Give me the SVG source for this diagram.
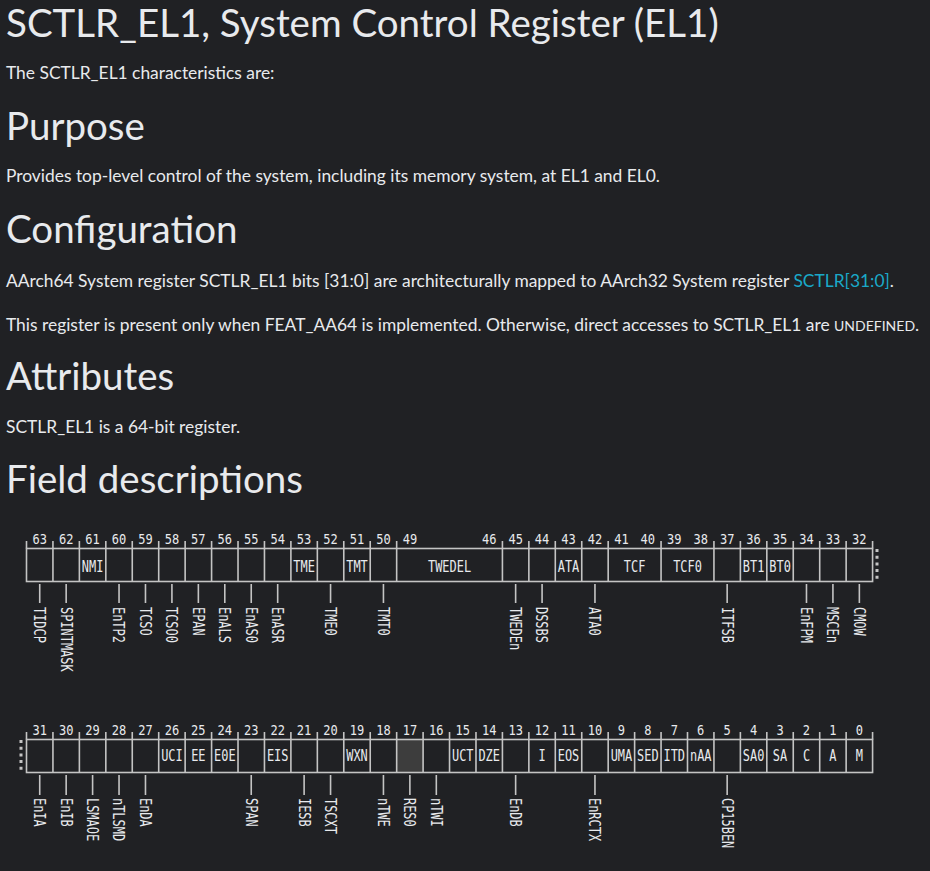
<svg xmlns="http://www.w3.org/2000/svg" width="930" height="871" viewBox="0 0 930 871">
<style>
.h{font-family:Lato,"Open Sans",sans-serif;font-size:38.5px;fill:#e8eaed;}
.b{font-family:Lato,"Open Sans",sans-serif;font-size:17.4px;fill:#e8eaed;}
.lk{fill:#1aa9c9;}
.sc{font-size:14px;}
.r{font-family:"DejaVu Sans Mono",monospace;font-size:15.5px;fill:#e8eaed;}
.n{font-family:"DejaVu Sans Mono",monospace;font-size:14px;fill:#e8eaed;text-anchor:middle;}
.c{text-anchor:middle;}
.box{fill:none;stroke:#c4c4c4;stroke-width:1.6;}
.ln{stroke:#c4c4c4;stroke-width:1.6;fill:none;}
.dot{stroke:#c4c4c4;stroke-width:3;stroke-dasharray:3 3.7;fill:none;}
</style>
<rect x="0" y="0" width="930" height="871" fill="#202124"/>

<g id="text">
<text class="h" x="6" y="37">SCTLR_EL1, System Control Register (EL1)</text>
<text class="b" x="6" y="79">The SCTLR_EL1 characteristics are:</text>
<text class="h" x="6" y="140">Purpose</text>
<text class="b" x="6" y="182">Provides top-level control of the system, including its memory system, at EL1 and EL0.</text>
<text class="h" x="6" y="243">Configuration</text>
<text class="b" x="6" y="287">AArch64 System register SCTLR_EL1 bits [31:0] are architecturally mapped to AArch32 System register <tspan class="lk">SCTLR[31:0]</tspan>.</text>
<text class="b" x="6" y="331">This register is present only when FEAT_AA64 is implemented. Otherwise, direct accesses to SCTLR_EL1 are <tspan class="sc">UNDEFINED</tspan>.</text>
<text class="h" x="6" y="390">Attributes</text>
<text class="b" x="6" y="433">SCTLR_EL1 is a 64-bit register.</text>
<text class="h" x="6" y="493">Field descriptions</text>
</g>

<!-- Top register (bits 63:32) -->
<g id="reg-high">
<rect class="box" x="26.5" y="548.5" width="846.08" height="33"/>
<path class="ln" d="M52.94 548.5V581.5M79.38 548.5V581.5M105.82 548.5V581.5M132.26 548.5V581.5M158.7 548.5V581.5M185.14 548.5V581.5M211.58 548.5V581.5M238.02 548.5V581.5M264.46 548.5V581.5M290.9 548.5V581.5M317.34 548.5V581.5M343.78 548.5V581.5M370.22 548.5V581.5M396.66 548.5V581.5M502.42 548.5V581.5M528.86 548.5V581.5M555.3 548.5V581.5M581.74 548.5V581.5M608.18 548.5V581.5M661.06 548.5V581.5M713.94 548.5V581.5M740.38 548.5V581.5M766.82 548.5V581.5M793.26 548.5V581.5M819.7 548.5V581.5M846.14 548.5V581.5"/>
<path class="ln" d="M26.5 541V548.5M52.94 541V548.5M79.38 541V548.5M105.82 541V548.5M132.26 541V548.5M158.7 541V548.5M185.14 541V548.5M211.58 541V548.5M238.02 541V548.5M264.46 541V548.5M290.9 541V548.5M317.34 541V548.5M343.78 541V548.5M370.22 541V548.5M396.66 541V548.5M502.42 541V548.5M528.86 541V548.5M555.3 541V548.5M581.74 541V548.5M608.18 541V548.5M661.06 541V548.5M713.94 541V548.5M740.38 541V548.5M766.82 541V548.5M793.26 541V548.5M819.7 541V548.5M846.14 541V548.5M872.58 541V548.5"/>
<path class="dot" d="M877 549V581"/>
<g id="bitnums-high">
<text class="n" transform="translate(39.72,544) scale(0.86,1)">63</text>
<text class="n" transform="translate(66.16,544) scale(0.86,1)">62</text>
<text class="n" transform="translate(92.6,544) scale(0.86,1)">61</text>
<text class="n" transform="translate(119.04,544) scale(0.86,1)">60</text>
<text class="n" transform="translate(145.48,544) scale(0.86,1)">59</text>
<text class="n" transform="translate(171.92,544) scale(0.86,1)">58</text>
<text class="n" transform="translate(198.36,544) scale(0.86,1)">57</text>
<text class="n" transform="translate(224.8,544) scale(0.86,1)">56</text>
<text class="n" transform="translate(251.24,544) scale(0.86,1)">55</text>
<text class="n" transform="translate(277.68,544) scale(0.86,1)">54</text>
<text class="n" transform="translate(304.12,544) scale(0.86,1)">53</text>
<text class="n" transform="translate(330.56,544) scale(0.86,1)">52</text>
<text class="n" transform="translate(357,544) scale(0.86,1)">51</text>
<text class="n" transform="translate(383.44,544) scale(0.86,1)">50</text>
<text class="n" transform="translate(409.88,544) scale(0.86,1)">49</text>
<text class="n" transform="translate(489.2,544) scale(0.86,1)">46</text>
<text class="n" transform="translate(515.64,544) scale(0.86,1)">45</text>
<text class="n" transform="translate(542.08,544) scale(0.86,1)">44</text>
<text class="n" transform="translate(568.52,544) scale(0.86,1)">43</text>
<text class="n" transform="translate(594.96,544) scale(0.86,1)">42</text>
<text class="n" transform="translate(621.4,544) scale(0.86,1)">41</text>
<text class="n" transform="translate(647.84,544) scale(0.86,1)">40</text>
<text class="n" transform="translate(674.28,544) scale(0.86,1)">39</text>
<text class="n" transform="translate(700.72,544) scale(0.86,1)">38</text>
<text class="n" transform="translate(727.16,544) scale(0.86,1)">37</text>
<text class="n" transform="translate(753.6,544) scale(0.86,1)">36</text>
<text class="n" transform="translate(780.04,544) scale(0.86,1)">35</text>
<text class="n" transform="translate(806.48,544) scale(0.86,1)">34</text>
<text class="n" transform="translate(832.92,544) scale(0.86,1)">33</text>
<text class="n" transform="translate(859.36,544) scale(0.86,1)">32</text>
</g>
<g id="f63"><text class="r" transform="translate(34.1,607) rotate(90) scale(0.77,1)">TIDCP</text></g>
<g id="f62"><text class="r" transform="translate(60.56,607) rotate(90) scale(0.77,1)">SPINTMASK</text></g>
<g id="f61"><text class="r c" transform="translate(92.6,571.5) scale(0.77,1)">NMI</text></g>
<g id="f60"><text class="r" transform="translate(113.44,607) rotate(90) scale(0.77,1)">EnTP2</text></g>
<g id="f59"><text class="r" transform="translate(139.88,607) rotate(90) scale(0.77,1)">TCSO</text></g>
<g id="f58"><text class="r" transform="translate(166.32,607) rotate(90) scale(0.77,1)">TCSO0</text></g>
<g id="f57"><text class="r" transform="translate(192.76,607) rotate(90) scale(0.77,1)">EPAN</text></g>
<g id="f56"><text class="r" transform="translate(219.2,607) rotate(90) scale(0.77,1)">EnALS</text></g>
<g id="f55"><text class="r" transform="translate(245.64,607) rotate(90) scale(0.77,1)">EnAS0</text></g>
<g id="f54"><text class="r" transform="translate(272.08,607) rotate(90) scale(0.77,1)">EnASR</text></g>
<g id="f53"><text class="r c" transform="translate(304.12,571.5) scale(0.77,1)">TME</text></g>
<g id="f52"><text class="r" transform="translate(324.96,607) rotate(90) scale(0.77,1)">TME0</text></g>
<g id="f51"><text class="r c" transform="translate(357,571.5) scale(0.77,1)">TMT</text></g>
<g id="f50"><text class="r" transform="translate(377.84,607) rotate(90) scale(0.77,1)">TMT0</text></g>
<g id="f49_46"><text class="r c" transform="translate(449.54,571.5) scale(0.77,1)">TWEDEL</text></g>
<g id="f45"><text class="r" transform="translate(510.04,607) rotate(90) scale(0.77,1)">TWEDEn</text></g>
<g id="f44"><text class="r" transform="translate(536.48,607) rotate(90) scale(0.77,1)">DSSBS</text></g>
<g id="f43"><text class="r c" transform="translate(568.52,571.5) scale(0.77,1)">ATA</text></g>
<g id="f42"><text class="r" transform="translate(589.36,607) rotate(90) scale(0.77,1)">ATA0</text></g>
<g id="f41_40"><text class="r c" transform="translate(634.62,571.5) scale(0.77,1)">TCF</text></g>
<g id="f39_38"><text class="r c" transform="translate(687.5,571.5) scale(0.77,1)">TCF0</text></g>
<g id="f37"><text class="r" transform="translate(721.56,607) rotate(90) scale(0.77,1)">ITFSB</text></g>
<g id="f36"><text class="r c" transform="translate(753.6,571.5) scale(0.77,1)">BT1</text></g>
<g id="f35"><text class="r c" transform="translate(780.04,571.5) scale(0.77,1)">BT0</text></g>
<g id="f34"><text class="r" transform="translate(800.88,607) rotate(90) scale(0.77,1)">EnFPM</text></g>
<g id="f33"><text class="r" transform="translate(827.32,607) rotate(90) scale(0.77,1)">MSCEn</text></g>
<g id="f32"><text class="r" transform="translate(853.76,607) rotate(90) scale(0.77,1)">CMOW</text></g>
</g>

<!-- Bottom register (bits 31:0) -->
<g id="reg-low">
<rect x="396.66" y="739.5" width="26.44" height="33" fill="#3d3d3d"/>
<rect class="box" x="26.5" y="739.5" width="846.08" height="33"/>
<path class="ln" d="M52.94 739.5V772.5M79.38 739.5V772.5M105.82 739.5V772.5M132.26 739.5V772.5M158.7 739.5V772.5M185.14 739.5V772.5M211.58 739.5V772.5M238.02 739.5V772.5M264.46 739.5V772.5M290.9 739.5V772.5M317.34 739.5V772.5M343.78 739.5V772.5M370.22 739.5V772.5M396.66 739.5V772.5M423.1 739.5V772.5M449.54 739.5V772.5M475.98 739.5V772.5M502.42 739.5V772.5M528.86 739.5V772.5M555.3 739.5V772.5M581.74 739.5V772.5M608.18 739.5V772.5M634.62 739.5V772.5M661.06 739.5V772.5M687.5 739.5V772.5M713.94 739.5V772.5M740.38 739.5V772.5M766.82 739.5V772.5M793.26 739.5V772.5M819.7 739.5V772.5M846.14 739.5V772.5"/>
<path class="ln" d="M26.5 732V739.5M52.94 732V739.5M79.38 732V739.5M105.82 732V739.5M132.26 732V739.5M158.7 732V739.5M185.14 732V739.5M211.58 732V739.5M238.02 732V739.5M264.46 732V739.5M290.9 732V739.5M317.34 732V739.5M343.78 732V739.5M370.22 732V739.5M396.66 732V739.5M423.1 732V739.5M449.54 732V739.5M475.98 732V739.5M502.42 732V739.5M528.86 732V739.5M555.3 732V739.5M581.74 732V739.5M608.18 732V739.5M634.62 732V739.5M661.06 732V739.5M687.5 732V739.5M713.94 732V739.5M740.38 732V739.5M766.82 732V739.5M793.26 732V739.5M819.7 732V739.5M846.14 732V739.5M872.58 732V739.5"/>
<path class="dot" d="M21 740V772"/>
<g id="bitnums-low">
<text class="n" transform="translate(39.72,735) scale(0.86,1)">31</text>
<text class="n" transform="translate(66.16,735) scale(0.86,1)">30</text>
<text class="n" transform="translate(92.6,735) scale(0.86,1)">29</text>
<text class="n" transform="translate(119.04,735) scale(0.86,1)">28</text>
<text class="n" transform="translate(145.48,735) scale(0.86,1)">27</text>
<text class="n" transform="translate(171.92,735) scale(0.86,1)">26</text>
<text class="n" transform="translate(198.36,735) scale(0.86,1)">25</text>
<text class="n" transform="translate(224.8,735) scale(0.86,1)">24</text>
<text class="n" transform="translate(251.24,735) scale(0.86,1)">23</text>
<text class="n" transform="translate(277.68,735) scale(0.86,1)">22</text>
<text class="n" transform="translate(304.12,735) scale(0.86,1)">21</text>
<text class="n" transform="translate(330.56,735) scale(0.86,1)">20</text>
<text class="n" transform="translate(357,735) scale(0.86,1)">19</text>
<text class="n" transform="translate(383.44,735) scale(0.86,1)">18</text>
<text class="n" transform="translate(409.88,735) scale(0.86,1)">17</text>
<text class="n" transform="translate(436.32,735) scale(0.86,1)">16</text>
<text class="n" transform="translate(462.76,735) scale(0.86,1)">15</text>
<text class="n" transform="translate(489.2,735) scale(0.86,1)">14</text>
<text class="n" transform="translate(515.64,735) scale(0.86,1)">13</text>
<text class="n" transform="translate(542.08,735) scale(0.86,1)">12</text>
<text class="n" transform="translate(568.52,735) scale(0.86,1)">11</text>
<text class="n" transform="translate(594.96,735) scale(0.86,1)">10</text>
<text class="n" transform="translate(621.4,735) scale(0.86,1)">9</text>
<text class="n" transform="translate(647.84,735) scale(0.86,1)">8</text>
<text class="n" transform="translate(674.28,735) scale(0.86,1)">7</text>
<text class="n" transform="translate(700.72,735) scale(0.86,1)">6</text>
<text class="n" transform="translate(727.16,735) scale(0.86,1)">5</text>
<text class="n" transform="translate(753.6,735) scale(0.86,1)">4</text>
<text class="n" transform="translate(780.04,735) scale(0.86,1)">3</text>
<text class="n" transform="translate(806.48,735) scale(0.86,1)">2</text>
<text class="n" transform="translate(832.92,735) scale(0.86,1)">1</text>
<text class="n" transform="translate(859.36,735) scale(0.86,1)">0</text>
</g>
<g id="f31"><text class="r" transform="translate(34.1,798) rotate(90) scale(0.77,1)">EnIA</text></g>
<g id="f30"><text class="r" transform="translate(60.56,798) rotate(90) scale(0.77,1)">EnIB</text></g>
<g id="f29"><text class="r" transform="translate(87,798) rotate(90) scale(0.77,1)">LSMAOE</text></g>
<g id="f28"><text class="r" transform="translate(113.44,798) rotate(90) scale(0.77,1)">nTLSMD</text></g>
<g id="f27"><text class="r" transform="translate(139.88,798) rotate(90) scale(0.77,1)">EnDA</text></g>
<g id="f26"><text class="r c" transform="translate(171.92,761) scale(0.77,1)">UCI</text></g>
<g id="f25"><text class="r c" transform="translate(198.36,761) scale(0.77,1)">EE</text></g>
<g id="f24"><text class="r c" transform="translate(224.8,761) scale(0.77,1)">E0E</text></g>
<g id="f23"><text class="r" transform="translate(245.64,798) rotate(90) scale(0.77,1)">SPAN</text></g>
<g id="f22"><text class="r c" transform="translate(277.68,761) scale(0.77,1)">EIS</text></g>
<g id="f21"><text class="r" transform="translate(298.52,798) rotate(90) scale(0.77,1)">IESB</text></g>
<g id="f20"><text class="r" transform="translate(324.96,798) rotate(90) scale(0.77,1)">TSCXT</text></g>
<g id="f19"><text class="r c" transform="translate(357,761) scale(0.77,1)">WXN</text></g>
<g id="f18"><text class="r" transform="translate(377.84,798) rotate(90) scale(0.77,1)">nTWE</text></g>
<g id="f17"><text class="r" transform="translate(404.28,798) rotate(90) scale(0.77,1)">RES0</text></g>
<g id="f16"><text class="r" transform="translate(430.72,798) rotate(90) scale(0.77,1)">nTWI</text></g>
<g id="f15"><text class="r c" transform="translate(462.76,761) scale(0.77,1)">UCT</text></g>
<g id="f14"><text class="r c" transform="translate(489.2,761) scale(0.77,1)">DZE</text></g>
<g id="f13"><text class="r" transform="translate(510.04,798) rotate(90) scale(0.77,1)">EnDB</text></g>
<g id="f12"><text class="r c" transform="translate(542.08,761) scale(0.77,1)">I</text></g>
<g id="f11"><text class="r c" transform="translate(568.52,761) scale(0.77,1)">EOS</text></g>
<g id="f10"><text class="r" transform="translate(589.36,798) rotate(90) scale(0.77,1)">EnRCTX</text></g>
<g id="f9"><text class="r c" transform="translate(621.4,761) scale(0.77,1)">UMA</text></g>
<g id="f8"><text class="r c" transform="translate(647.84,761) scale(0.77,1)">SED</text></g>
<g id="f7"><text class="r c" transform="translate(674.28,761) scale(0.77,1)">ITD</text></g>
<g id="f6"><text class="r c" transform="translate(700.72,761) scale(0.77,1)">nAA</text></g>
<g id="f5"><text class="r" transform="translate(721.56,798) rotate(90) scale(0.77,1)">CP15BEN</text></g>
<g id="f4"><text class="r c" transform="translate(753.6,761) scale(0.77,1)">SA0</text></g>
<g id="f3"><text class="r c" transform="translate(780.04,761) scale(0.77,1)">SA</text></g>
<g id="f2"><text class="r c" transform="translate(806.48,761) scale(0.77,1)">C</text></g>
<g id="f1"><text class="r c" transform="translate(832.92,761) scale(0.77,1)">A</text></g>
<g id="f0"><text class="r c" transform="translate(859.36,761) scale(0.77,1)">M</text></g>
</g>

<g id="connectors">
<path class="ln" d="M39.72 584V603M66.16 584V603M119.04 584V603M145.48 584V603M171.92 584V603M198.36 584V603M224.8 584V603M251.24 584V603M277.68 584V603M330.56 584V603M383.44 584V603M515.64 584V603M542.08 584V603M594.96 584V603M727.16 584V603M806.48 584V603M832.92 584V603M859.36 584V603"/>
<path class="ln" d="M39.72 775V795M66.16 775V795M92.6 775V795M119.04 775V795M145.48 775V795M251.24 775V795M304.12 775V795M330.56 775V795M383.44 775V795M409.88 775V795M436.32 775V795M515.64 775V795M594.96 775V795M727.16 775V795"/>
</g>
</svg>
